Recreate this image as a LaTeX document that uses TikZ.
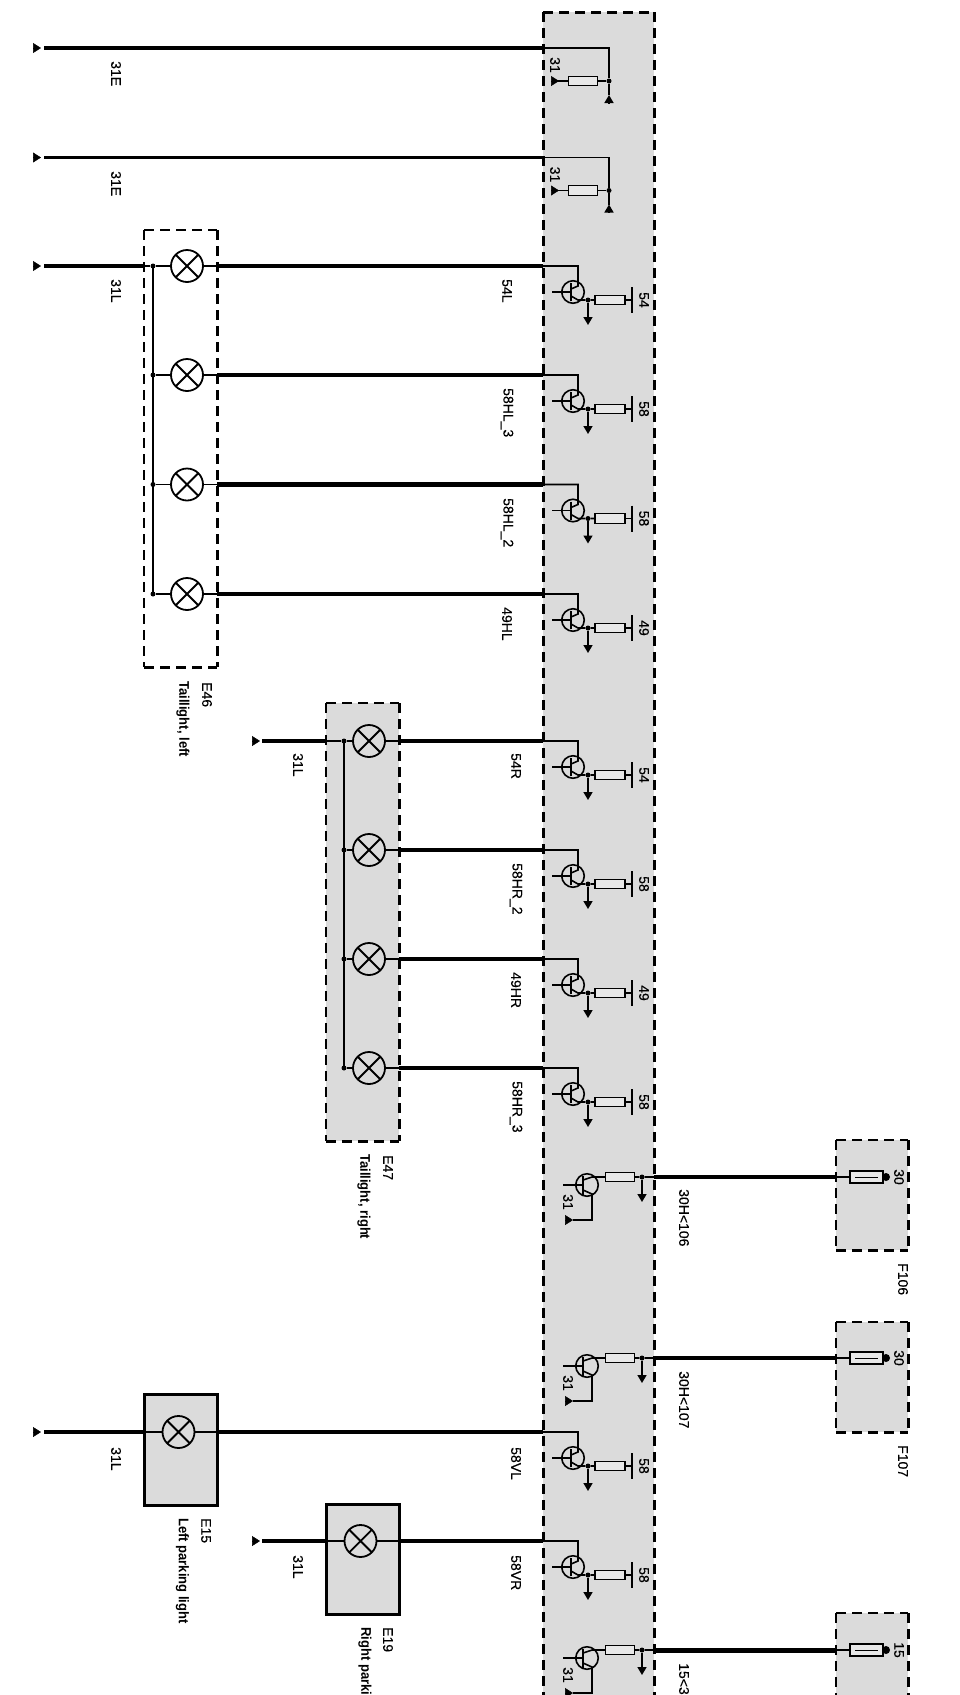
\documentclass[tikz,border=0pt]{standalone}
\usepackage{fontspec}
\setmainfont[FakeBold=0.2]{Liberation Sans}
\newfontfamily\descfont[UprightFont={* Bold},FakeStretch=0.93]{Liberation Sans}
\usetikzlibrary{arrows.meta}
\definecolor{boxgray}{HTML}{DBDBDB}
\definecolor{resgray}{HTML}{E8E8E8}
\tikzset{
  x=1pt,y=-1pt,
  lbl/.style={font=\fontsize{14}{14}\selectfont,rotate=-90,inner sep=0pt,text=black},
  startlbl/.style={lbl,anchor=west},
  desclbl/.style={lbl,anchor=west,font=\descfont\fontsize{14}{14}\selectfont},
  thin wire/.style={line width=1.6pt,black},
  lampsym/.style={circle,draw=black,line width=1.8pt,minimum size=32pt,inner sep=0pt,
    path picture={\draw[line width=1.8pt] (path picture bounding box.north west)--(path picture bounding box.south east)
      (path picture bounding box.north east)--(path picture bounding box.south west);}},
  junction/.style={circle,fill=black,minimum size=5pt,inner sep=0pt},
  tcirc/.style={circle,draw=black,line width=1.6pt,minimum size=22.5pt,inner sep=0pt},
  resistor/.style={rectangle,draw=black,line width=1.4pt,fill=resgray,minimum height=9.5pt,inner sep=0pt},
  fusebody/.style={rectangle,draw=black,line width=1.6pt,fill=resgray,minimum width=33pt,minimum height=12pt,inner sep=0pt},
  gtip/.style={thin wire,-{Triangle[length=8pt,width=9pt]}},
  endtip/.style={line width=0.5pt,-{Triangle[length=8pt,width=10pt]}},
  fillbox/.style={rectangle,fill=boxgray,inner sep=0pt,anchor=north west},
  plainbox/.style={rectangle,inner sep=0pt,anchor=north west},
  solidbox/.style={rectangle,fill=boxgray,draw=black,line width=3.2pt,inner sep=0pt,anchor=north west},
  dashside/.style={black,dash pattern=on 10pt off 6pt},
}
% #1 name #2 style #3 x1 #4 y1 #5 x2 #6 y2
\newcommand{\mkbox}[6]{%
  \pgfmathsetmacro{\bw}{#5-#3}\pgfmathsetmacro{\bh}{#6-#4}%
  \node[#2,minimum width=\bw pt,minimum height=\bh pt] (#1) at (#3,#4) {};}
% #1 name, widths l t r b
\newcommand{\dsides}[5]{%
  \draw[dashside,line width=#2pt] (#1.north west)--(#1.south west);
  \draw[dashside,line width=#3pt] (#1.north west)--(#1.north east);
  \draw[dashside,line width=#4pt] (#1.north east)--(#1.south east);
  \draw[dashside,line width=#5pt] (#1.south west)--(#1.south east);}
% output stage: #1 id, #2 y of wire, #3 pin label
\newcommand{\outstage}[3]{%
  \node[tcirc] (tc#1) at (573,{#2+26}) {};
  \coordinate (tk#1) at (578,#2);
  \coordinate (te#1) at (578,{#2+34});
  \node[junction] (tj#1) at (588,{#2+34}) {};
  \node[resistor,minimum width=30pt] (tr#1) at (610,{#2+34}) {};
  \coordinate (tb#1) at (632,{#2+34});
  \coordinate (ta#1) at (588,{#2+59});
  \draw[thin wire] (ecu.west |- tk#1)--(tk#1)--(578,{#2+20})--(571,{#2+23});
  \draw[thin wire] (571,{#2+30})--(578,{#2+34})--(tj#1)--(tr#1);
  \draw[thin wire] (552,{#2+26})--(571,{#2+26});
  \draw[thin wire] (571,{#2+17})--(571,{#2+35});
  \draw[thin wire] (tr#1)--(tb#1);
  \draw[thin wire] (632,{#2+21})--(632,{#2+47});
  \draw[gtip] (tj#1)--(ta#1);
  \node[lbl] (tl#1) at (644,{#2+34}) {#3};}
% supply stage: #1 id, #2 y of wire
\newcommand{\supplystage}[2]{%
  \node[tcirc] (sc#1) at (587,{#2+8}) {};
  \node[junction] (sj#1) at (642,#2) {};
  \node[resistor,minimum width=29pt] (sr#1) at (620,#2) {};
  \coordinate (sa#1) at (642,{#2+25});
  \coordinate (sg#1) at (565,{#2+43});
  \coordinate (sh#1) at (573,{#2+43});
  \draw[thin wire] (ecu.east |- sj#1)--(sj#1)--(sr#1)--(592,#2)--(583,{#2+3});
  \draw[thin wire] (583,{#2+13})--(592,{#2+17})--(592,{#2+43})--(sh#1);
  \draw[endtip] (sg#1)--(sh#1);
  \draw[thin wire] (563,{#2+8})--(583,{#2+8});
  \draw[thin wire] (583,{#2-1})--(583,{#2+18});
  \draw[gtip] (sj#1)--(sa#1);
  \node[lbl] (sl#1) at (568,{#2+25}) {31};}
% ground stage: #1 id, #2 y
\newcommand{\groundstage}[2]{%
  \coordinate (gk#1) at (609,#2);
  \node[junction] (gj#1) at (609,{#2+33}) {};
  \node[resistor,minimum width=29pt] (gr#1) at (583,{#2+33}) {};
  \coordinate (gl#1) at (551,{#2+33});
  \coordinate (gd#1) at (609,{#2+47});
  \coordinate (gb#1) at (609,{#2+55});
  \draw[thin wire] (ecu.west |- gk#1)--(gk#1)--(gj#1)--(gr#1);
  \draw[thin wire] (gj#1)--(gd#1);
  \draw[gtip] (gb#1)--(gd#1);
  \draw[thin wire] (gr#1)--(557,{#2+33});
  \draw[endtip] (gl#1)--(559,{#2+33});
  \node[lbl] (gt#1) at (555,{#2+17}) {31};}
% free end triangle at x #1 y #2
\newcommand{\wireend}[2]{%
  \coordinate (fa) at (#1,#2);\coordinate (fb) at ({#1+8},#2);
  \draw[endtip] (fa)--(fb);}
% lamp: #1 name #2 x #3 y
\newcommand{\lampat}[3]{\node[lampsym] (#1) at (#2,#3) {};}
% fuse: #1 id #2 wire y #3 pin label
\newcommand{\fuseat}[3]{%
  \node[fusebody] (fu#1) at (866.5,#2) {};
  \node[circle,fill=black,minimum size=8pt,inner sep=0pt] (fd#1) at (886,#2) {};
  \draw[line width=0.9pt] (855,#2)--(878,#2);
  \node[lbl] (fl#1) at (899,#2) {#3};}
\begin{document}
\begin{tikzpicture}
\path[use as bounding box] (0,0) rectangle (960,1695);
\fill[white] (0,0) rectangle (960,1695);
\clip (0,0) rectangle (960,1695);
% boxes
\mkbox{ecu}{fillbox}{543}{12}{654}{1740}
\mkbox{E46}{plainbox}{144}{230}{217}{667}
\mkbox{E47}{fillbox}{326}{703}{399}{1141}
\mkbox{F106}{fillbox}{836}{1140}{908}{1250}
\mkbox{F107}{fillbox}{836}{1322}{908}{1432}
\mkbox{F15}{fillbox}{836}{1613}{908}{1740}
\mkbox{E15}{solidbox}{142.5}{1393}{215.5}{1504}
\mkbox{E19}{solidbox}{324.5}{1503}{397.5}{1613}
% stages
\groundstage{a}{48}
\groundstage{b}{157.5}
\outstage{a}{266}{54}
\outstage{b}{375}{58}
\outstage{c}{484.5}{58}
\outstage{d}{594}{49}
\outstage{e}{741}{54}
\outstage{f}{850}{58}
\outstage{g}{959}{49}
\outstage{h}{1068}{58}
\outstage{i}{1432}{58}
\outstage{j}{1541}{58}
\supplystage{a}{1177}
\supplystage{b}{1358}
\supplystage{c}{1650}
% lamps
\foreach \n/\y in {a/266,b/375,c/484.5,d/594}{\lampat{la\n}{187}{\y}}
\foreach \n/\y in {a/741,b/850,c/959,d/1068}{\lampat{lb\n}{369}{\y}}
\lampat{lv}{178.5}{1432}
\lampat{lw}{360.5}{1541}
% buses
\coordinate (ba) at (153,266);\coordinate (bb) at (153,594);
\coordinate (bc) at (344,741);\coordinate (bd) at (344,1068);
\draw[thin wire,line width=1.9pt] (ba)--(bb);
\draw[thin wire,line width=1.9pt] (bc)--(bd);
\foreach \n in {a,b,c,d}{
  \node[junction] (ja\n) at (153,0 |- la\n) {};
  \node[junction] (jb\n) at (344,0 |- lb\n) {};
  \draw[thin wire] (ja\n)--(la\n);
  \draw[thin wire] (jb\n)--(lb\n);
  \draw[thin wire] (la\n)--(E46.east |- la\n);
  \draw[thin wire] (lb\n)--(E47.east |- lb\n);
}
\draw[thin wire] (E46.west |- laa)--(jaa);
\draw[thin wire] (E47.west |- lba)--(jba);
\draw[thin wire] (E15.west |- lv)--(lv)--(E15.east |- lv);
\draw[thin wire] (E19.west |- lw)--(lw)--(E19.east |- lw);
% thick wires
\coordinate (w1) at (44,48);\coordinate (w2) at (44,157.5);\coordinate (w3) at (44,266);
\coordinate (w4) at (262,741);\coordinate (w5) at (44,1432);\coordinate (w6) at (262,1541);
\draw[line width=4.6pt] (w1)--(ecu.west |- w1);
\draw[line width=3.2pt] (w2)--(ecu.west |- w2);
\draw[line width=4.6pt] (w3)--(E46.west |- w3);
\draw[line width=4.6pt] (E46.east |- laa)--(ecu.west |- laa);
\draw[line width=3.2pt] (E46.east |- lab)--(ecu.west |- lab);
\draw[line width=4.6pt] (E46.east |- lac)--(ecu.west |- lac);
\draw[line width=3.2pt] (E46.east |- lad)--(ecu.west |- lad);
\draw[line width=3.4pt] (w4)--(E47.west |- w4);
\draw[line width=3.4pt] (E47.east |- lba)--(ecu.west |- lba);
\draw[line width=4.6pt] (E47.east |- lbb)--(ecu.west |- lbb);
\draw[line width=3.2pt] (E47.east |- lbc)--(ecu.west |- lbc);
\draw[line width=4.6pt] (E47.east |- lbd)--(ecu.west |- lbd);
\draw[line width=4pt] (w5)--(E15.west |- w5);
\draw[line width=4pt] (E15.east |- lv)--(ecu.west |- lv);
\draw[line width=3.6pt] (w6)--(E19.west |- w6);
\draw[line width=3.6pt] (E19.east |- lw)--(ecu.west |- lw);
\wireend{33}{48}\wireend{33}{157.5}\wireend{33}{266}\wireend{252}{741}\wireend{33}{1432}\wireend{252}{1541}
% fuses
\fuseat{a}{1177}{30}
\fuseat{b}{1358}{30}
\fuseat{c}{1650}{15}
\draw[line width=4pt] (ecu.east |- fua)--(F106.west |- fua);
\draw[line width=4pt] (ecu.east |- fub)--(F107.west |- fub);
\draw[line width=5pt] (ecu.east |- fuc)--(F15.west |- fuc);
\foreach \n/\b in {a/F106,b/F107,c/F15}{\draw[thin wire] (\b.west |- fu\n)--(fu\n);}
% dashed outlines
\dsides{ecu}{3}{3}{3}{3}
\dsides{E46}{1.8}{2.4}{3.4}{2.6}
\dsides{E47}{2}{2.6}{3.2}{3}
\dsides{F106}{2.6}{2.8}{2.6}{2.8}
\dsides{F107}{2.6}{2.8}{2.6}{2.8}
\dsides{F15}{2.6}{2.8}{2.6}{2.8}
% wire labels
\node[startlbl] (t31Ea) at (116,61) {31E};
\node[startlbl] (t31Eb) at (116,171) {31E};
\node[startlbl] (t31La) at (116,279) {31L};
\node[startlbl] (t54L) at (507,279) {54L};
\node[startlbl] (t58H3) at (507,388) {58HL\_3};
\node[startlbl] (t58H2) at (507,498) {58HL\_2};
\node[startlbl] (t49HL) at (507,607) {49HL};
\node[startlbl] (t31Lb) at (298,753) {31L};
\node[startlbl] (t54R) at (516,753) {54R};
\node[startlbl] (t58R2) at (516,863) {58HR\_2};
\node[startlbl] (t49HR) at (516,972) {49HR};
\node[startlbl] (t58R3) at (516,1081) {58HR\_3};
\node[startlbl] (t30a) at (684,1189) {30H<106};
\node[startlbl] (t30b) at (684,1371) {30H<107};
\node[startlbl] (t15) at (684,1663) {15<3};
\node[startlbl] (t31Lc) at (116,1447) {31L};
\node[startlbl] (t58VL) at (516,1447) {58VL};
\node[startlbl] (t31Ld) at (298,1555) {31L};
\node[startlbl] (t58VR) at (516,1555) {58VR};
% component labels
\node[startlbl] (n46) at (207,682) {E46};
\node[desclbl] (d46) at (183,681) {Taillight, left};
\node[startlbl] (n47) at (388,1155) {E47};
\node[desclbl] (d47) at (364,1154) {Taillight, right};
\node[startlbl] (n106) at (903,1263) {F106};
\node[startlbl] (n107) at (903,1445) {F107};
\node[startlbl] (n15) at (206,1518) {E15};
\node[desclbl] (d15) at (182.5,1518) {Left parking light};
\node[startlbl] (n19) at (388,1627) {E19};
\node[desclbl] (d19) at (365,1627) {Right parki};
\end{tikzpicture}
\end{document}
